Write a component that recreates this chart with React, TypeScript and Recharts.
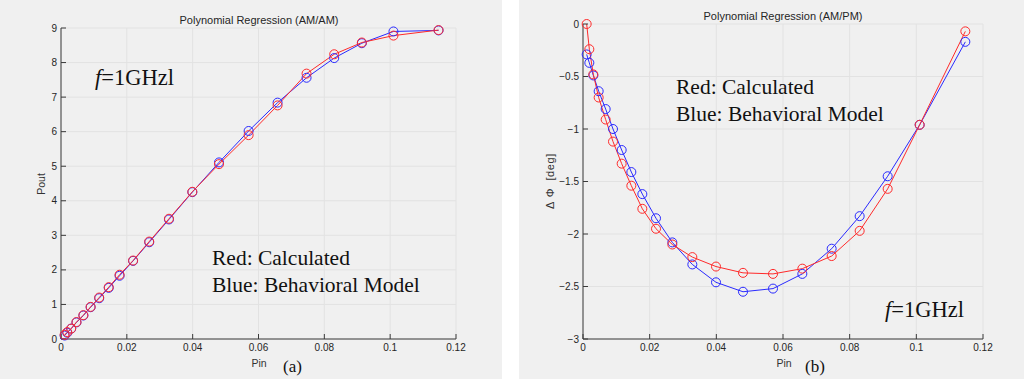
import React from 'react';
import { LineChart, Line, XAxis, YAxis, CartesianGrid } from 'recharts';

const pin = [0.0011, 0.0019, 0.0031, 0.0047, 0.0068, 0.009, 0.0116, 0.0145, 0.0178, 0.0219, 0.0268, 0.0328, 0.0399, 0.048, 0.057, 0.0658, 0.0746, 0.083, 0.0914, 0.101, 0.1147];
const amamCalculated = [0.12, 0.2, 0.3, 0.49, 0.69, 0.93, 1.2, 1.5, 1.86, 2.27, 2.82, 3.48, 4.26, 5.06, 5.9, 6.76, 7.68, 8.24, 8.58, 8.78, 8.94];
const amamModel = [0.1, 0.18, 0.3, 0.48, 0.68, 0.92, 1.18, 1.48, 1.83, 2.26, 2.8, 3.46, 4.25, 5.11, 6.02, 6.84, 7.56, 8.13, 8.56, 8.9, 8.93];
const ampmCalculated = [0, -0.24, -0.48, -0.7, -0.91, -1.12, -1.33, -1.54, -1.76, -1.95, -2.1, -2.22, -2.31, -2.37, -2.38, -2.33, -2.21, -1.97, -1.57, -0.96, -0.07];
const ampmModel = [-0.29, -0.37, -0.49, -0.64, -0.81, -1.0, -1.2, -1.41, -1.62, -1.85, -2.08, -2.29, -2.46, -2.55, -2.52, -2.38, -2.14, -1.83, -1.45, -0.96, -0.17];

const xTicks = [0, 0.02, 0.04, 0.06, 0.08, 0.1, 0.12];
const amamTicks = [0, 1, 2, 3, 4, 5, 6, 7, 8, 9];
const ampmTicks = [-3, -2.5, -2, -1.5, -1, -0.5, 0];

const amamData = pin.map((p, i) => ({ pin: p, calc: amamCalculated[i], model: amamModel[i] }));
const ampmData = pin.map((p, i) => ({ pin: p, calc: ampmCalculated[i], model: ampmModel[i] }));

const RED = '#ff2a2a';
const BLUE = '#2a2aff';
const AXIS = '#3a3a3a';
const GRID = '#e2e2e2';
const sans = '"Liberation Sans", Arial, sans-serif';
const serif = '"Liberation Serif", "Times New Roman", serif';
const tickFont = { fontSize: 10, fill: '#262626', fontFamily: sans };
const fmt = (v: number) => String(v).replace('-', '\u2212');
const blank = () => '';

function Panel(props: { data: any[]; width: number; height: number; margin: any; yWidth: number; yDomain: number[]; yTicks: number[] }) {
  const { data, width, height, margin, yWidth, yDomain, yTicks } = props;
  return (
    <LineChart width={width} height={height} data={data} margin={margin}>
      <CartesianGrid stroke={GRID} strokeWidth={1} />
      <XAxis dataKey="pin" type="number" domain={[0, 0.12]} ticks={xTicks} tickFormatter={fmt}
        height={40} tickSize={-5} tickMargin={10} stroke={AXIS} tick={tickFont} interval={0} />
      <XAxis xAxisId="top" orientation="top" dataKey="pin" type="number" domain={[0, 0.12]} ticks={xTicks}
        tickFormatter={blank} height={0} tickSize={-5} stroke={AXIS} interval={0} />
      <YAxis type="number" domain={yDomain} ticks={yTicks} tickFormatter={fmt} width={yWidth}
        tickSize={-5} tickMargin={9} stroke={AXIS} tick={tickFont} interval={0} />
      <YAxis yAxisId="right" orientation="right" type="number" domain={yDomain} ticks={yTicks}
        tickFormatter={blank} width={0} tickSize={-5} stroke={AXIS} interval={0} />
      <Line dataKey="model" stroke={BLUE} strokeWidth={1} isAnimationActive={false} activeDot={false}
        dot={{ r: 4.5, fill: 'none', stroke: BLUE, strokeWidth: 1 }} />
      <Line dataKey="calc" stroke={RED} strokeWidth={1} isAnimationActive={false} activeDot={false}
        dot={{ r: 4.5, fill: 'none', stroke: RED, strokeWidth: 1 }} />
    </LineChart>
  );
}

const sansStyle = { fontFamily: sans };
const serifStyle = { fontFamily: serif };

export default function App() {
  return (
    <div style={{ position: 'absolute', left: 0, top: 0, width: 1024, height: 379, background: '#ffffff', overflow: 'hidden' }}>
      <div style={{ position: 'absolute', left: 0, top: 0, width: 502, height: 379, background: '#f0f0f0' }}>
        <Panel data={amamData} width={502} height={379} margin={{ top: 28, right: 46, bottom: 0, left: 0 }}
          yWidth={61} yDomain={[0, 9]} yTicks={amamTicks} />
      </div>
      <div style={{ position: 'absolute', left: 519, top: 0, width: 505, height: 379, background: '#f0f0f0' }}>
        <Panel data={ampmData} width={505} height={379} margin={{ top: 24, right: 41, bottom: 0, left: 0 }}
          yWidth={64} yDomain={[-3, 0]} yTicks={ampmTicks} />
      </div>
      <svg width={1024} height={379} style={{ position: 'absolute', left: 0, top: 0, pointerEvents: 'none' }}>
        <text x={259} y={24} textAnchor="middle" style={sansStyle} fontSize={11} fill="#262626">Polynomial Regression (AM/AM)</text>
        <text x={783} y={20} textAnchor="middle" style={sansStyle} fontSize={11} fill="#262626">Polynomial Regression (AM/PM)</text>
        <text x={259} y={367} textAnchor="middle" style={sansStyle} fontSize={10.5} fill="#333">Pin</text>
        <text x={784} y={367} textAnchor="middle" style={sansStyle} fontSize={10.5} fill="#333">Pin</text>
        <text x={0} y={0} transform="translate(45,184) rotate(-90)" textAnchor="middle" style={sansStyle} fontSize={10.5} fill="#333">Pout</text>
        <text x={0} y={0} transform="translate(554,181) rotate(-90)" textAnchor="middle" style={sansStyle} fontSize={11} letterSpacing={0.6} fill="#333">{'\u0394\u00a0\u03a6\u00a0\u00a0[deg]'}</text>
        <text x={283} y={372} style={serifStyle} fontSize={17} fill="#111">(a)</text>
        <text x={805} y={372} style={serifStyle} fontSize={17} fill="#111">(b)</text>
        <text x={95} y={85} style={serifStyle} fontSize={22.5} fill="#111"><tspan fontStyle="italic">f</tspan>=1GHzl</text>
        <text x={885} y={317} style={serifStyle} fontSize={22.5} fill="#111"><tspan fontStyle="italic">f</tspan>=1GHzl</text>
        <text x={212} y={265} style={serifStyle} fontSize={21.5} fill="#111">Red: Calculated</text>
        <text x={212} y={292} style={serifStyle} fontSize={21.5} fill="#111">Blue: Behavioral Model</text>
        <text x={676} y={94} style={serifStyle} fontSize={21.5} fill="#111">Red: Calculated</text>
        <text x={676} y={121} style={serifStyle} fontSize={21.5} fill="#111">Blue: Behavioral Model</text>
      </svg>
    </div>
  );
}
